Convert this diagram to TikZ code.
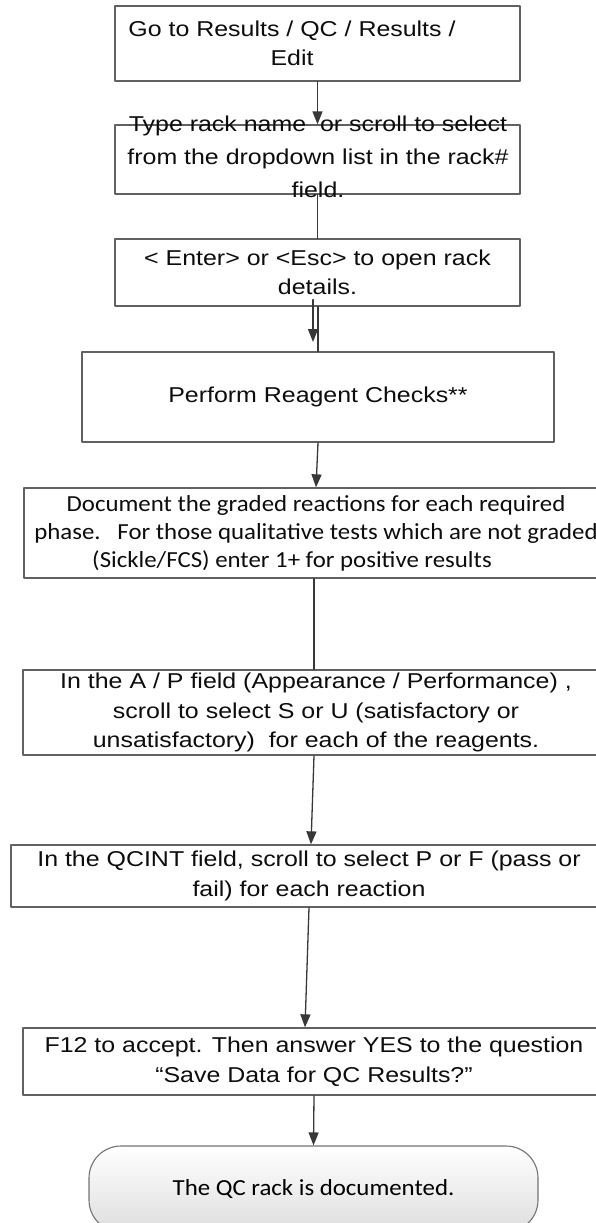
\documentclass[tikz,border=0pt]{standalone}
\usepackage{fontspec}
\setmainfont{Liberation Sans}[FakeStretch=1.16]
\newfontfamily\calfont{Carlito}[FakeStretch=1.08]
\usetikzlibrary{arrows.meta}
\tikzset{
  stepbox/.style={draw=black!62, line width=1.3pt, inner sep=0pt, fill=white, align=center, text=black!95, font=\fontsize{21.5}{29.5}\selectfont},
  steptext/.style={inner sep=0pt, align=center, text=black!95, font=\fontsize{21.5}{29.5}\selectfont},
  calbox/.style={stepbox, font=\calfont\fontsize{23}{28}\selectfont},
  endbox/.style={draw=black!55, line width=1.1pt, rounded corners=32pt, top color=white, bottom color=black!13, inner sep=0pt, text=black, font=\calfont\fontsize{23}{28}\selectfont},
  flow/.style={draw=black!78, line width=1.3pt}
}
\begin{document}
\begin{tikzpicture}[line cap=round,line join=round,>={Triangle[length=13pt,width=10pt]},x=1.0pt,y=-1.0pt]
\useasboundingbox (0,0) rectangle (596,1223);
\node[stepbox, minimum width=405pt, minimum height=75pt] (goto) at (317.5,43.5) {};
\node[steptext] (gototext) at (292,43.5) {Go to Results / QC / Results /\\Edit};
\node[stepbox, minimum width=405pt, minimum height=69pt] (rack) at (317.5,159.5) {};
\node[steptext, font=\fontsize{21.5}{33}\selectfont] (racktext) at (318,156.5) {Type rack name\ \ or scroll to select\\from the dropdown list in the rack\#\\field.};
\node[stepbox, minimum width=405pt, minimum height=67pt] (enter) at (317.5,272.5) {< Enter> or <Esc> to open rack\\details.};
\node[stepbox, minimum width=472pt, minimum height=90pt] (reagent) at (318,397) {Perform Reagent Checks**};
\node[calbox, minimum width=584pt, minimum height=90pt] (document) at (316,533) {Document the graded reactions for each required\\phase.\ \ \ For those qualitative tests which are not graded\\(Sickle/FCS) enter 1+ for positive results\hspace*{48pt}};
\node[stepbox, minimum width=586pt, minimum height=85pt] (appear) at (316,712.5) {In the A / P field (Appearance / Performance) ,\\scroll to select S or U (satisfactory or\\unsatisfactory)\ \ for each of the reagents.};
\node[stepbox, minimum width=596pt, minimum height=62pt] (qcint) at (309,876) {In the QCINT field, scroll to select P or F (pass or\\fail) for each reaction};
\node[stepbox, minimum width=582pt, minimum height=67pt] (save) at (314,1061.5) {F12 to accept. Then answer YES to the question\\``Save Data for QC Results?''};
\node[endbox, minimum width=449pt, minimum height=86pt] (done) at (313.5,1189) {The QC rack is documented.};
\coordinate (entertip) at (313,342);
\draw[flow,->] (goto.south) -- (rack.north);
\draw[flow] (rack.south) -- (enter.north);
\draw[flow] ([xshift=0.5pt]enter.south) -- (reagent.north);
\draw[flow,->] ([xshift=-4.5pt,yshift=7pt]enter.south) -- (entertip);
\draw[flow,->] (reagent.south) -- (document.north);
\draw[flow] ([xshift=-2pt]document.south) -- ([xshift=-2pt]appear.north);
\draw[flow,->] ([xshift=-2pt]appear.south) -- ([xshift=2pt]qcint.north);
\draw[flow,->] (qcint.south) -- ([xshift=-9pt]save.north);
\draw[flow,->] (save.south) -- (done.north);
\end{tikzpicture}
\end{document}
